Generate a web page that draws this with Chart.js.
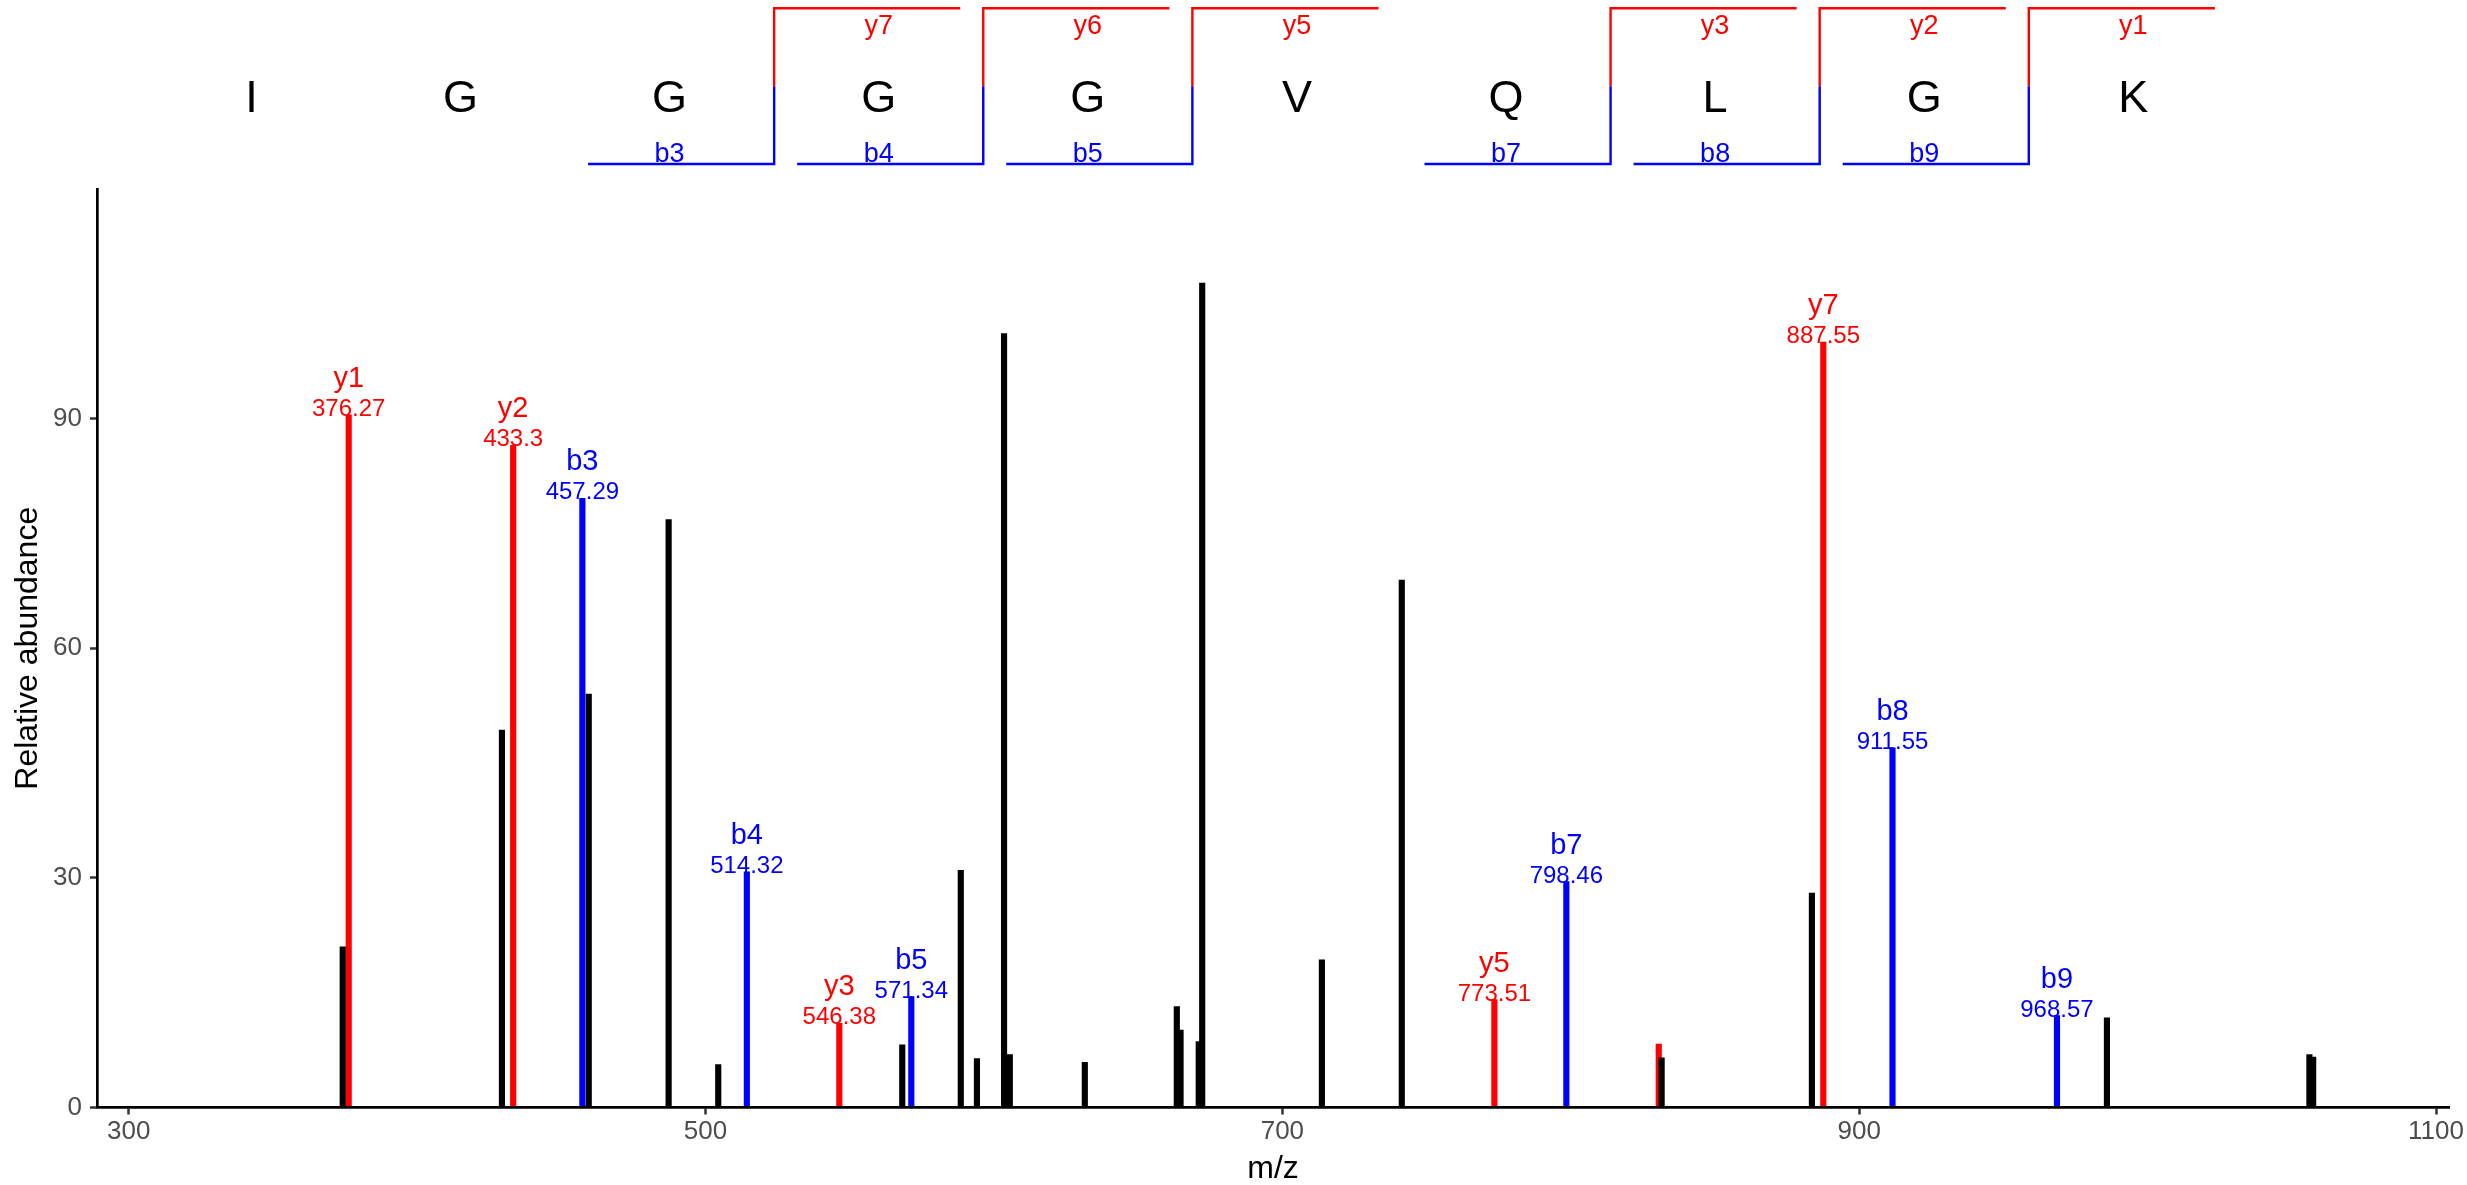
<!DOCTYPE html>
<html>
<head>
<meta charset="utf-8">
<script src="https://cdn.jsdelivr.net/npm/chart.js@4.4.0/dist/chart.umd.min.js"></script>
<style>
  html, body { margin: 0; padding: 0; background: #ffffff; }
  #wrap { position: relative; width: 2467px; height: 1185px; }
  #seqChart { position: absolute; left: 0; top: 0; }
  #specChart { position: absolute; left: 0; top: 180px; }
</style>
</head>
<body>
<div id="wrap">
  <canvas id="seqChart" width="2467" height="180"></canvas>
  <canvas id="specChart" width="2467" height="1005"></canvas>
</div>
<script>
// peptide sequence and matched fragments
const residues = ['I', 'G', 'G', 'G', 'G', 'V', 'Q', 'L', 'G', 'K'];
const bFragments = [3, 4, 5, 7, 8, 9];
const yFragments = [7, 6, 5, 3, 2, 1];

// annotated fragment peaks
const ionNames = ['y1', 'y2', 'b3', 'b4', 'y3', 'b5', 'y5', 'b7', 'y7', 'b8', 'b9'];
const ionMz = [376.27, 433.3, 457.29, 514.32, 546.38, 571.34, 773.51, 798.46, 887.55, 911.55, 968.57];
const ionIntensity = [90.5, 86.5, 79.6, 30.8, 11.0, 14.5, 14.1, 29.5, 100.0, 47.0, 12.0];

// matched y-type peak without a label
const extraYMz = [830.5];
const extraYIntensity = [8.3];

// unmatched peaks
const otherMz = [374.2, 429.4, 459.5, 487.2, 504.4, 568.2, 588.5, 594.1, 603.5, 605.5, 631.5,
                 663.4, 664.7, 671.0, 672.2, 713.7, 741.4, 831.5, 883.6, 985.9, 1056.1, 1057.4];
const otherIntensity = [21.0, 49.3, 54.0, 76.8, 5.6, 8.2, 31.0, 6.4, 101.1, 6.9, 5.9,
                        13.2, 10.1, 8.6, 107.7, 19.3, 68.9, 6.5, 28.0, 11.7, 6.9, 6.6];

// axis ticks
const xTicks = [300, 500, 700, 900, 1100];
const yTicks = [0, 30, 60, 90];

const FONT = '"Liberation Sans", Arial, Helvetica, sans-serif';
const RED = '#FF0000';
const BLUE = '#0000FF';
const BRACKET = 0.89;

Chart.defaults.font.family = FONT;

function fmtMz(v) {
    return String(Math.round(v * 100) / 100);
}

function toPoints(xs, ys) {
    return xs.map((x, i) => ({ x: x, y: ys[i] }));
}

// no extra room for half tick labels, ggplot-like panel edges
function noScalePadding(s) {
    s.paddingTop = 0;
    s.paddingBottom = 0;
    s.paddingLeft = 0;
    s.paddingRight = 0;
}

// ---- sequence panel ----
const seqDatasets = [];
bFragments.forEach(k => {
    const edge = k + 0.5;
    seqDatasets.push({
        data: [{ x: edge, y: 0 }, { x: edge, y: -1 }, { x: edge - BRACKET, y: -1 }],
        borderColor: BLUE
    });
});
yFragments.forEach(n => {
    const edge = residues.length - n + 0.5;
    seqDatasets.push({
        data: [{ x: edge, y: 0 }, { x: edge, y: 1 }, { x: edge + BRACKET, y: 1 }],
        borderColor: RED
    });
});

const sequencePlugin = {
    id: 'sequenceText',
    afterDatasetsDraw(chart) {
        const { ctx, scales: { x, y } } = chart;
        ctx.save();
        ctx.textAlign = 'center';

        // residues
        ctx.fillStyle = '#000000';
        ctx.font = '45px ' + FONT;
        ctx.textBaseline = 'middle';
        residues.forEach((r, i) => {
            ctx.fillText(r, x.getPixelForValue(i + 1), y.getPixelForValue(-0.177));
        });

        // fragment names
        ctx.font = '27px ' + FONT;
        ctx.textBaseline = 'alphabetic';
        ctx.fillStyle = BLUE;
        bFragments.forEach(k => {
            ctx.fillText('b' + k, x.getPixelForValue(k), y.getPixelForValue(-1) - 2);
        });
        ctx.fillStyle = RED;
        yFragments.forEach(n => {
            ctx.fillText('y' + n, x.getPixelForValue(residues.length - n + 1), y.getPixelForValue(1) + 26);
        });
        ctx.restore();
    }
};

new Chart(document.getElementById('seqChart'), {
    type: 'scatter',
    data: { datasets: seqDatasets },
    options: {
        responsive: false,
        animation: false,
        layout: { padding: 0 },
        datasets: {
            scatter: { showLine: true, pointRadius: 0, borderWidth: 2.4, borderJoinStyle: 'miter', fill: false }
        },
        plugins: { legend: { display: false }, tooltip: { enabled: false } },
        scales: {
            x: { type: 'linear', display: false, min: -0.2023, max: 11.5957 },
            y: { type: 'linear', display: false, min: -1.2055, max: 1.1066 }
        }
    },
    plugins: [sequencePlugin]
});

// ---- spectrum ----
const ionLabelPlugin = {
    id: 'ionLabels',
    afterDatasetsDraw(chart) {
        const { ctx, scales: { x, y } } = chart;
        ctx.save();
        ctx.textAlign = 'center';
        ctx.textBaseline = 'alphabetic';
        ionNames.forEach((name, i) => {
            const px = x.getPixelForValue(ionMz[i]);
            const py = y.getPixelForValue(ionIntensity[i]);
            ctx.fillStyle = name[0] === 'y' ? RED : BLUE;
            ctx.font = '29px ' + FONT;
            ctx.fillText(name, px, py - 28);
            ctx.font = '24px ' + FONT;
            ctx.fillText(fmtMz(ionMz[i]), px, py + 1);
        });
        ctx.restore();
    }
};

const yIdx = ionNames.map((n, i) => n[0] === 'y' ? i : -1).filter(i => i >= 0);
const bIdx = ionNames.map((n, i) => n[0] === 'b' ? i : -1).filter(i => i >= 0);

new Chart(document.getElementById('specChart'), {
    type: 'bar',
    data: {
        datasets: [
            {
                label: 'unmatched',
                data: toPoints(otherMz, otherIntensity),
                backgroundColor: '#000000',
                order: 0
            },
            {
                label: 'y ions',
                data: toPoints(yIdx.map(i => ionMz[i]).concat(extraYMz),
                               yIdx.map(i => ionIntensity[i]).concat(extraYIntensity)),
                backgroundColor: RED,
                order: 1
            },
            {
                label: 'b ions',
                data: toPoints(bIdx.map(i => ionMz[i]), bIdx.map(i => ionIntensity[i])),
                backgroundColor: BLUE,
                order: 1
            }
        ]
    },
    options: {
        responsive: false,
        animation: false,
        datasets: { bar: { barThickness: 5.5, grouped: false, borderWidth: 0 } },
        layout: { padding: { top: 9, right: 18, left: 0, bottom: 0 } },
        plugins: { legend: { display: false }, tooltip: { enabled: false } },
        scales: {
            x: {
                type: 'linear',
                min: 289,
                max: 1104.5,
                offset: false,
                afterBuildTicks: s => { s.ticks = xTicks.map(v => ({ value: v })); },
                afterFit: s => { s.height = 77.5; noScalePadding(s); },
                grid: { offset: false, drawOnChartArea: false, drawTicks: true, tickLength: 7, tickWidth: 2.5, tickColor: '#333333' },
                border: { display: true, color: '#000000', width: 2.7, z: 1 },
                ticks: {
                    font: { size: 26 }, color: '#4D4D4D', padding: 2, maxRotation: 0, autoSkip: false,
                    callback: v => String(v)
                },
                title: { display: true, text: 'm/z', color: '#000000', font: { size: 32, lineHeight: 1 }, padding: 0 }
            },
            y: {
                type: 'linear',
                min: 0,
                max: 120,
                afterBuildTicks: s => { s.ticks = yTicks.map(v => ({ value: v })); },
                afterFit: s => { s.width = 97; noScalePadding(s); },
                grid: { drawOnChartArea: false, drawTicks: true, tickLength: 7, tickWidth: 2.5, tickColor: '#333333' },
                border: { display: true, color: '#000000', width: 2.7, z: 1 },
                ticks: { font: { size: 26 }, color: '#4D4D4D', padding: 8, callback: v => String(v) },
                title: { display: true, text: 'Relative abundance', color: '#000000', font: { size: 32, lineHeight: 1 }, padding: { top: 12, bottom: 0 } }
            }
        }
    },
    plugins: [ionLabelPlugin]
});
</script>
</body>
</html>
